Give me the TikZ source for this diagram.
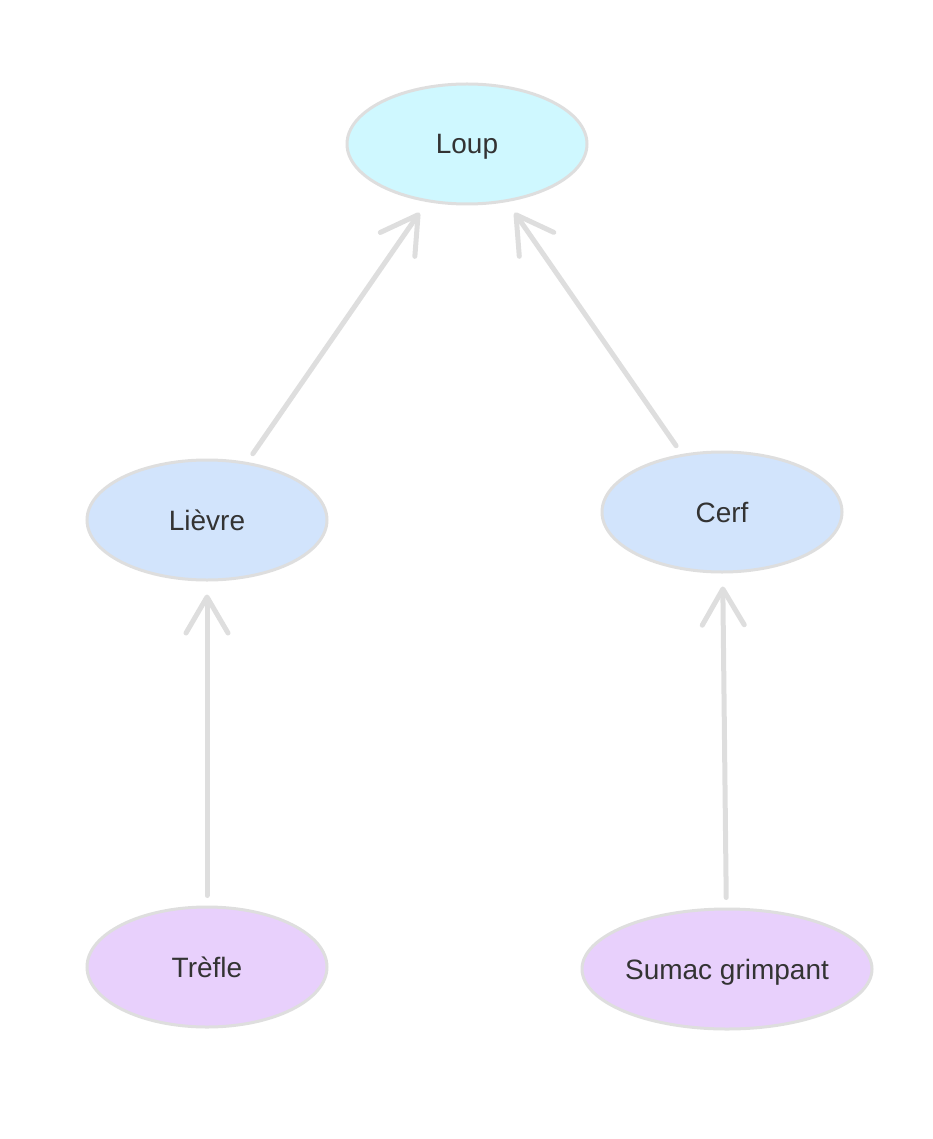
\documentclass[tikz,border=0pt]{standalone}
\usepackage{fontspec}
\setmainfont{Liberation Sans}
\usetikzlibrary{arrows.meta,shapes.geometric}
\definecolor{predcol}{HTML}{CFF8FF}
\definecolor{herbcol}{HTML}{D2E4FC}
\definecolor{plantcol}{HTML}{E8D0FC}
\definecolor{rimcol}{HTML}{DEDEDE}
\definecolor{inkcol}{HTML}{333333}
\tikzset{
  taxon/.style  = {ellipse, draw=rimcol, line width=3pt, inner sep=0pt,
                   minimum width=240pt, minimum height=120pt, text=inkcol,
                   text height=20pt, text depth=0pt,
                   font=\fontsize{28}{32}\selectfont},
  feeds/.style  = {-{Straight Barb[length=36pt,width=42pt,round]}, rimcol,
                   line width=5pt, line cap=round,
                   shorten <=10pt, shorten >=13pt}
}

\begin{document}
\begin{tikzpicture}[x=1pt,y=-1pt]
  \useasboundingbox (0,0) rectangle (932,1139);
  \node[taxon, fill=predcol]  (loup)   at (467,144) {Loup};
  \node[taxon, fill=herbcol]  (lievre) at (207,520) {Lièvre};
  \node[taxon, fill=herbcol]  (cerf)   at (722,512) {Cerf};
  \node[taxon, fill=plantcol] (trefle) at (207,967) {Trèfle};
  \node[taxon, fill=plantcol, minimum width=290pt] (sumac) at (727,969) {Sumac grimpant};
  \draw[feeds] (lievre) -- (loup);
  \draw[feeds] (cerf)   -- (loup);
  \draw[feeds] (trefle) -- (lievre);
  \draw[feeds] (sumac)  -- (cerf);
\end{tikzpicture}
\end{document}
